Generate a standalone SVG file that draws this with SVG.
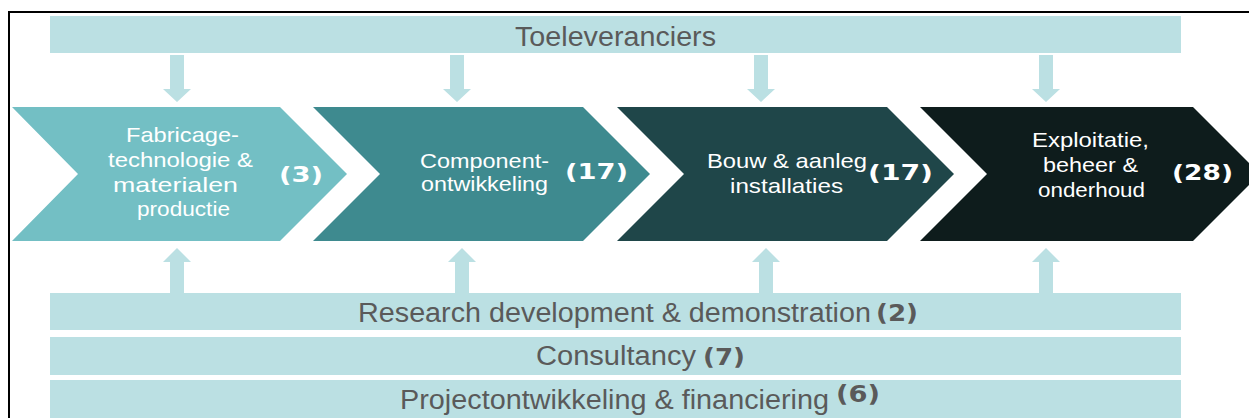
<svg xmlns="http://www.w3.org/2000/svg" width="1249" height="418" viewBox="0 0 1249 418">
<style>
.bar{fill:#BBE0E3}
.arr{fill:#BBE0E3}
.lbl{font-family:"Liberation Sans",Arial,sans-serif;font-size:27px;fill:#5A5A5A}
.num{font-family:"DejaVu Sans",Verdana,sans-serif;font-weight:bold;fill:#5A5A5A;font-size:23px}
.ct{font-family:"Liberation Sans",Arial,sans-serif;font-size:21px;fill:#FFFFFF;text-anchor:start}
.cn{font-family:"DejaVu Sans",Verdana,sans-serif;font-weight:bold;font-size:21px;fill:#FFFFFF}
</style>
<rect width="1249" height="418" fill="#FFFFFF"/>
<path d="M9,420 V12 H1250" fill="none" stroke="#000" stroke-width="2"/>

<g id="toeleveranciers">
<rect class="bar" x="50" y="16" width="1131" height="37"/>
<text class="lbl" x="515" y="46" textLength="201" lengthAdjust="spacingAndGlyphs">Toeleveranciers</text>
</g>

<g id="connectors">
<path class="arr" d="M170,55 H184 V89 H191 L177,102 L163,89 H170 Z"/>
<path class="arr" d="M450,55 H464 V89 H471 L457,102 L443,89 H450 Z"/>
<path class="arr" d="M754,55 H768 V89 H775 L761,102 L747,89 H754 Z"/>
<path class="arr" d="M1039,55 H1053 V89 H1060 L1046,102 L1032,89 H1039 Z"/>
<path class="arr" d="M170,293 V262 H163 L177,248 L191,262 H184 V293 Z"/>
<path class="arr" d="M455,293 V262 H448 L462,248 L476,262 H469 V293 Z"/>
<path class="arr" d="M759,293 V262 H752 L766,248 L780,262 H773 V293 Z"/>
<path class="arr" d="M1039,293 V262 H1032 L1046,248 L1060,262 H1053 V293 Z"/>
</g>

<g id="fabricage">
<polygon points="12,107 280,107 347,174 280,241 12,241 78,174" fill="#73BFC4"/>
<text class="ct" x="126" y="142" textLength="113" lengthAdjust="spacingAndGlyphs">Fabricage-</text>
<text class="ct" x="108" y="167" textLength="145" lengthAdjust="spacingAndGlyphs">technologie &amp;</text>
<text class="ct" x="113" y="192" textLength="125" lengthAdjust="spacingAndGlyphs">materialen</text>
<text class="ct" x="137" y="216" textLength="93" lengthAdjust="spacingAndGlyphs">productie</text>
<text class="cn" x="279" y="182" textLength="44" lengthAdjust="spacingAndGlyphs">(3)</text>
</g>

<g id="component">
<polygon points="313,107 583,107 650,174 583,241 313,241 380,174" fill="#3E8A8F"/>
<text class="ct" x="420" y="168" textLength="129" lengthAdjust="spacingAndGlyphs">Component-</text>
<text class="ct" x="421" y="191" textLength="127" lengthAdjust="spacingAndGlyphs">ontwikkeling</text>
<text class="cn" x="565" y="179" textLength="63" lengthAdjust="spacingAndGlyphs">(17)</text>
</g>

<g id="bouw">
<polygon points="617,107 887,107 954,174 887,241 617,241 684,174" fill="#1F4649"/>
<text class="ct" x="707" y="168" textLength="160" lengthAdjust="spacingAndGlyphs">Bouw &amp; aanleg</text>
<text class="ct" x="730" y="193" textLength="113" lengthAdjust="spacingAndGlyphs">installaties</text>
<text class="cn" x="868" y="180" textLength="65" lengthAdjust="spacingAndGlyphs">(17)</text>
</g>

<g id="exploitatie">
<polygon points="920,107 1193,107 1260,174 1193,241 920,241 987,174" fill="#0E1C1C"/>
<text class="ct" x="1032" y="147" textLength="117" lengthAdjust="spacingAndGlyphs">Exploitatie,</text>
<text class="ct" x="1043" y="172" textLength="95" lengthAdjust="spacingAndGlyphs">beheer &amp;</text>
<text class="ct" x="1038" y="197" textLength="107" lengthAdjust="spacingAndGlyphs">onderhoud</text>
<text class="cn" x="1172" y="180" textLength="61" lengthAdjust="spacingAndGlyphs">(28)</text>
</g>

<g id="rdd">
<rect class="bar" x="50" y="293" width="1131" height="37"/>
<text class="lbl" x="358" y="322" textLength="513" lengthAdjust="spacingAndGlyphs">Research development &amp; demonstration</text>
<text class="num" x="876" y="321" textLength="42" lengthAdjust="spacingAndGlyphs">(2)</text>
</g>

<g id="consultancy">
<rect class="bar" x="50" y="337" width="1131" height="38"/>
<text class="lbl" x="536" y="365" textLength="160" lengthAdjust="spacingAndGlyphs">Consultancy</text>
<text class="num" x="703" y="365" textLength="42" lengthAdjust="spacingAndGlyphs">(7)</text>
</g>

<g id="projectontwikkeling">
<rect class="bar" x="50" y="380" width="1131" height="40"/>
<text class="lbl" x="400" y="409" textLength="429" lengthAdjust="spacingAndGlyphs">Projectontwikkeling &amp; financiering</text>
<text class="num" x="836" y="402" textLength="44" lengthAdjust="spacingAndGlyphs">(6)</text>
</g>
</svg>
